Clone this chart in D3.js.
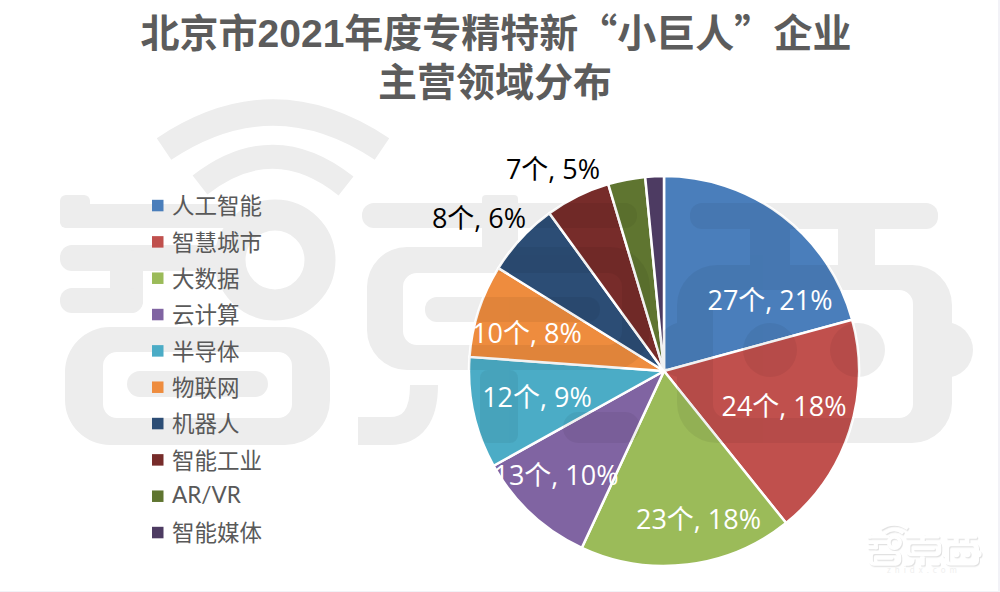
<!DOCTYPE html>
<html lang="zh">
<head>
<meta charset="UTF-8">
<title>北京市2021年度专精特新“小巨人”企业主营领域分布</title>
<script src="https://cdn.jsdelivr.net/npm/d3@7"></script>
<style>
  html, body { margin: 0; padding: 0; background: #fff; }
  svg { display: block; }
  text { font-family: "Noto Sans CJK SC", sans-serif; }
  .title { font-family: "Liberation Sans", "Noto Sans CJK SC", sans-serif; font-size: 39px; font-weight: 700; fill: #5c5c5c; text-anchor: middle; }
  .title .wide { font-family: "Noto Sans CJK SC", sans-serif; }
  .legend text { font-size: 22.5px; fill: #595959; font-weight: 400; dominant-baseline: central; }
  .legend text.latin { font-family: "Lato", sans-serif; }
  .label { font-family: "Open Sans", "Noto Sans CJK SC", sans-serif; font-size: 27px; text-anchor: middle; dominant-baseline: central; }
</style>
</head>
<body>
<div id="chart"></div>
<script>
  const categories = ["人工智能", "智慧城市", "大数据", "云计算", "半导体", "物联网", "机器人", "智能工业", "AR/VR", "智能媒体"];
  const counts = [27, 24, 23, 13, 12, 10, 8, 7, 4, 2];
  const colors = ["#4a7ebb", "#c0504d", "#9bbb59", "#8064a2", "#4bacc6", "#ee8c3e", "#2c4d75", "#772c2a", "#5f7530", "#4d3b62"];
  const titleLines = [["北京市2021年度专精特新", "“小巨人”", "企业"], ["主营领域分布"]];

  // label layout, excel placed these by hand so they are not on the centroid
  const labelCenters = [[770, 299], [784, 405], [698.5, 518], [556, 474], [537, 396], [527, 332], [479, 217], [553, 168]];
  const labelColors = ["#fff", "#fff", "#fff", "#fff", "#fff", "#fff", "#000", "#000"];

  const width = 1000, height = 592;
  const cx = 664, cy = 371, radius = 195;

  const svg = d3.select("#chart").append("svg")
    .attr("width", width)
    .attr("height", height);

  // watermark shapes, used big over the chart and small in the corner
  function rr(x0, y0, x1, y1, r) {
    return `M${x0 + r},${y0}H${x1 - r}A${r},${r} 0 0 1 ${x1},${y0 + r}V${y1 - r}A${r},${r} 0 0 1 ${x1 - r},${y1}H${x0 + r}A${r},${r} 0 0 1 ${x0},${y1 - r}V${y0 + r}A${r},${r} 0 0 1 ${x0 + r},${y0}Z`;
  }
  function drawLogo(g, fill) {
    const solid = [
      // 智
      rr(60, 195, 90, 228, 6), rr(60, 204, 235, 228, 8),
      rr(60, 245, 225, 271, 12), rr(110, 250, 143, 313, 12), rr(60, 288, 143, 313, 12),
      rr(127, 371, 268, 397, 13),
      // 东
      rr(362, 203, 637, 228, 12), rr(482, 195, 518, 250, 4), rr(425, 297, 600, 322, 12),
      rr(480, 370, 518, 443, 8), rr(563, 412, 640, 443, 15),
      // 西
      rr(690, 203, 938, 229, 12), rr(750, 225, 790, 270, 0), rr(838, 225, 875, 270, 0),
      rr(917, 322, 973, 378, 28), rr(656, 322, 712, 378, 28),
      rr(743, 323, 797, 377, 27), rr(830, 323, 885, 377, 27)
    ];
    g.selectAll("path.solid").data(solid).enter().append("path")
      .attr("class", "solid").attr("d", d => d).attr("fill", fill);
    const hollow = [
      rr(65, 327, 330, 445, 45) + rr(103, 352, 292, 418, 14),
      rr(367, 247, 650, 370, 40) + rr(403, 273, 622, 345, 14),
      rr(677, 265, 952, 443, 40) + rr(713, 290, 913, 418, 14)
    ];
    g.selectAll("path.hollow").data(hollow).enter().append("path")
      .attr("class", "hollow").attr("d", d => d).attr("fill", fill).attr("fill-rule", "evenodd");
    const strokes = [
      ["M164,149Q273,76 382,149", 26], ["M200,185Q273,128 346,186", 24],
      ["M358,431H390Q424,431 424,385", 28]
    ];
    g.selectAll("path.band").data(strokes).enter().append("path")
      .attr("class", "band").attr("d", d => d[0]).attr("fill", "none")
      .attr("stroke", fill).attr("stroke-width", d => d[1]);
    g.append("circle").attr("cx", 275).attr("cy", 260).attr("r", 45)
      .attr("fill", "none").attr("stroke", fill).attr("stroke-width", 31);
  }

  drawLogo(svg.append("g"), "#ededed");

  // pie
  const total = d3.sum(counts);
  const color = d3.scaleOrdinal().domain(categories).range(colors);
  const pie = d3.pie().sort(null).value(i => counts[i]);
  const arc = d3.arc().innerRadius(0).outerRadius(radius);

  svg.append("g")
    .attr("transform", `translate(${cx},${cy})`)
    .selectAll("path")
    .data(pie(d3.range(counts.length)))
    .enter()
    .append("path")
    .attr("d", arc)
    .attr("fill", d => color(categories[d.data]))
    .attr("stroke", "#fff")
    .attr("stroke-width", 2.5);

  // the watermark shows faintly through the slices
  const tint = svg.append("g").attr("opacity", 0.05);
  drawLogo(tint, "#000");
  tint.attr("clip-path", "url(#pieClip)");
  svg.append("clipPath").attr("id", "pieClip")
    .append("circle").attr("cx", cx).attr("cy", cy).attr("r", radius);

  const corner = svg.append("g")
    .attr("transform", "translate(860,510) scale(0.125)")
    .style("filter", "drop-shadow(8px 10px 6px #e2e2e2)");
  drawLogo(corner, "#fff");
  svg.append("text")
    .attr("x", 924).attr("y", 573)
    .attr("text-anchor", "middle")
    .style("font-size", "8px")
    .style("letter-spacing", "4px")
    .style("fill", "#efefef")
    .text("zhidx.com");

  // slice labels, the two smallest slices have none
  svg.append("g")
    .selectAll("text")
    .data(labelCenters)
    .enter()
    .append("text")
    .attr("class", "label")
    .attr("x", d => d[0])
    .attr("y", d => d[1])
    .attr("fill", (d, i) => labelColors[i])
    .text((d, i) => `${counts[i]}个, ${Math.round(counts[i] / total * 100)}%`);

  // legend
  const legendY = d3.scalePoint().domain(categories).range([205.3, 532.3]);
  const legend = svg.append("g").attr("class", "legend")
    .selectAll("g")
    .data(categories)
    .enter()
    .append("g")
    .attr("transform", d => `translate(152,${legendY(d)})`);

  legend.append("rect")
    .attr("y", -5.5)
    .attr("width", 11.5)
    .attr("height", 11.5)
    .attr("fill", d => color(d));

  legend.append("text")
    .attr("x", 20)
    .attr("y", -1)
    .attr("class", d => /^[A-Z]/.test(d) ? "latin" : null)
    .text(d => d);

  // title
  const title = svg.append("g")
    .selectAll("text")
    .data(titleLines)
    .enter()
    .append("text")
    .attr("class", "title")
    .attr("x", (d, i) => i == 0 ? 496 : 495)
    .attr("y", (d, i) => i == 0 ? 47 : 96);

  title.selectAll("tspan")
    .data(d => d)
    .enter()
    .append("tspan")
    .attr("class", d => d.includes("“") ? "wide" : null)
    .text(d => d);

  // thin page edges left over in the screenshot
  svg.append("rect").attr("x", 998).attr("y", 0).attr("width", 2).attr("height", height).attr("fill", "#f2f2f7");
  svg.append("rect").attr("x", 0).attr("y", 591).attr("width", width).attr("height", 1).attr("fill", "#f2f2f7");
</script>
</body>
</html>
